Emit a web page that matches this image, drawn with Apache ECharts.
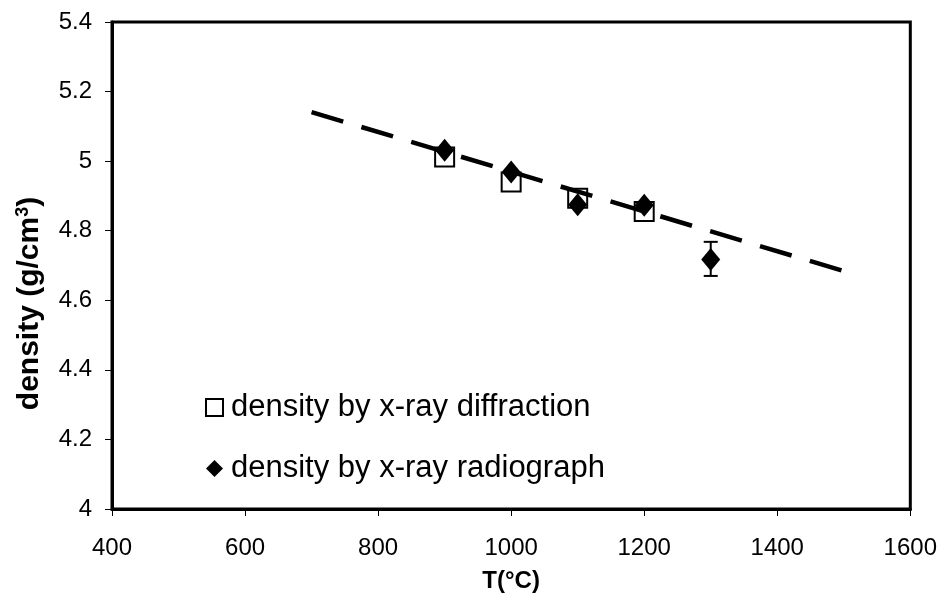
<!DOCTYPE html>
<html>
<head>
<meta charset="utf-8">
<script src="https://cdn.jsdelivr.net/npm/echarts@6/dist/echarts.min.js"></script>
<style>
html,body{margin:0;padding:0;background:#fff;}
#chart{width:940px;height:598px;}
</style>
</head>
<body>
<div id="chart"></div>
<script>
// Data
var temps = [900, 1000, 1100, 1200];
var diffractionDensity = [5.012, 4.94, 4.893, 4.855];
var radioTemps = [900, 1000, 1100, 1200, 1300];
var radioDensity = [5.031, 4.969, 4.875, 4.873, 4.717];
var errTemps = [1300];
var errLow = [4.670];
var errHigh = [4.768];
var fitTemps = [700, 1500];
var fitDensity = [5.141, 4.684];
var xTicks = [400, 600, 800, 1000, 1200, 1400, 1600];
var yTicks = [4, 4.2, 4.4, 4.6, 4.8, 5, 5.2, 5.4];

var FONT = 'Liberation Sans, Arial, sans-serif';
function zip(a, b) { return a.map(function (v, i) { return [v, b[i]]; }); }

var chart = echarts.init(document.getElementById('chart'));
chart.setOption({
  animation: false,
  backgroundColor: '#ffffff',
  grid: {
    left: 112, right: 28, top: 22, bottom: 84,
    show: true, borderColor: '#000', borderWidth: 3
  },
  legend: {
    orient: 'vertical',
    left: 200, top: 387,
    itemGap: 30,
    itemWidth: 17, itemHeight: 17,
    data: ['density by x-ray diffraction', 'density by x-ray radiograph'],
    textStyle: { fontFamily: FONT, fontSize: 31, color: '#000', padding: [0, 0, 0, 3] }
  },
  xAxis: {
    type: 'value',
    min: xTicks[0], max: xTicks[xTicks.length - 1], interval: 200,
    name: 'T(°C)', nameLocation: 'middle', nameGap: 60,
    nameTextStyle: { fontFamily: FONT, fontSize: 24, fontWeight: 'bold', color: '#000' },
    axisLine: { show: true, lineStyle: { color: '#000', width: 3 } },
    axisTick: { show: true, length: 7, lineStyle: { color: '#000', width: 1 } },
    axisLabel: {
      margin: 27, fontFamily: FONT, fontSize: 24, color: '#000',
      formatter: function (v) { return String(v); }
    },
    splitLine: { show: false }
  },
  yAxis: {
    type: 'value',
    min: yTicks[0], max: yTicks[yTicks.length - 1], interval: 0.2,
    name: '{t|density (g/cm}{s|3}{t|)}', nameLocation: 'middle', nameGap: 66, nameRotate: 90,
    nameTextStyle: {
      fontFamily: FONT, fontWeight: 'bold', color: '#000',
      padding: [0, 76, 0, 0],
      rich: {
        t: { fontFamily: FONT, fontSize: 30, fontWeight: 'bold', color: '#000' },
        s: { fontFamily: FONT, fontSize: 18, fontWeight: 'bold', color: '#000', verticalAlign: 'top', padding: [0, 0, 14, 0] }
      }
    },
    axisLine: { show: true, lineStyle: { color: '#000', width: 3 } },
    axisTick: { show: true, length: 7, lineStyle: { color: '#000', width: 1 } },
    axisLabel: {
      margin: 20, fontFamily: FONT, fontSize: 24, color: '#000',
      formatter: function (v) { return String(Math.round(v * 10) / 10); }
    },
    splitLine: { show: false }
  },
  series: [
    {
      name: 'density by x-ray diffraction',
      type: 'scatter',
      symbol: 'rect',
      symbolSize: 19,
      itemStyle: { color: '#fff', borderColor: '#000', borderWidth: 2, opacity: 1 },
      data: zip(temps, diffractionDensity),
      z: 2
    },
    {
      name: 'density by x-ray radiograph',
      type: 'scatter',
      symbol: 'diamond',
      symbolSize: [19, 23],
      itemStyle: { color: '#000', borderColor: '#000', borderWidth: 0, opacity: 1 },
      data: zip(radioTemps, radioDensity),
      z: 3
    },
    {
      name: 'err',
      type: 'custom',
      z: 3,
      data: errTemps.map(function (t, i) { return [t, errLow[i], errHigh[i]]; }),
      renderItem: function (params, api) {
        var lo = api.coord([api.value(0), api.value(1)]);
        var hi = api.coord([api.value(0), api.value(2)]);
        var w = 7;
        var st = { stroke: '#000', lineWidth: 2 };
        return {
          type: 'group',
          children: [
            { type: 'line', shape: { x1: lo[0], y1: lo[1], x2: hi[0], y2: hi[1] }, style: st },
            { type: 'line', shape: { x1: lo[0] - w, y1: lo[1], x2: lo[0] + w, y2: lo[1] }, style: st },
            { type: 'line', shape: { x1: hi[0] - w, y1: hi[1], x2: hi[0] + w, y2: hi[1] }, style: st }
          ]
        };
      }
    },
    {
      name: 'fit',
      type: 'line',
      symbol: 'none',
      data: zip(fitTemps, fitDensity),
      lineStyle: { color: '#000', width: 4.5, type: [33, 19] },
      z: 4
    }
  ]
});
</script>
</body>
</html>
